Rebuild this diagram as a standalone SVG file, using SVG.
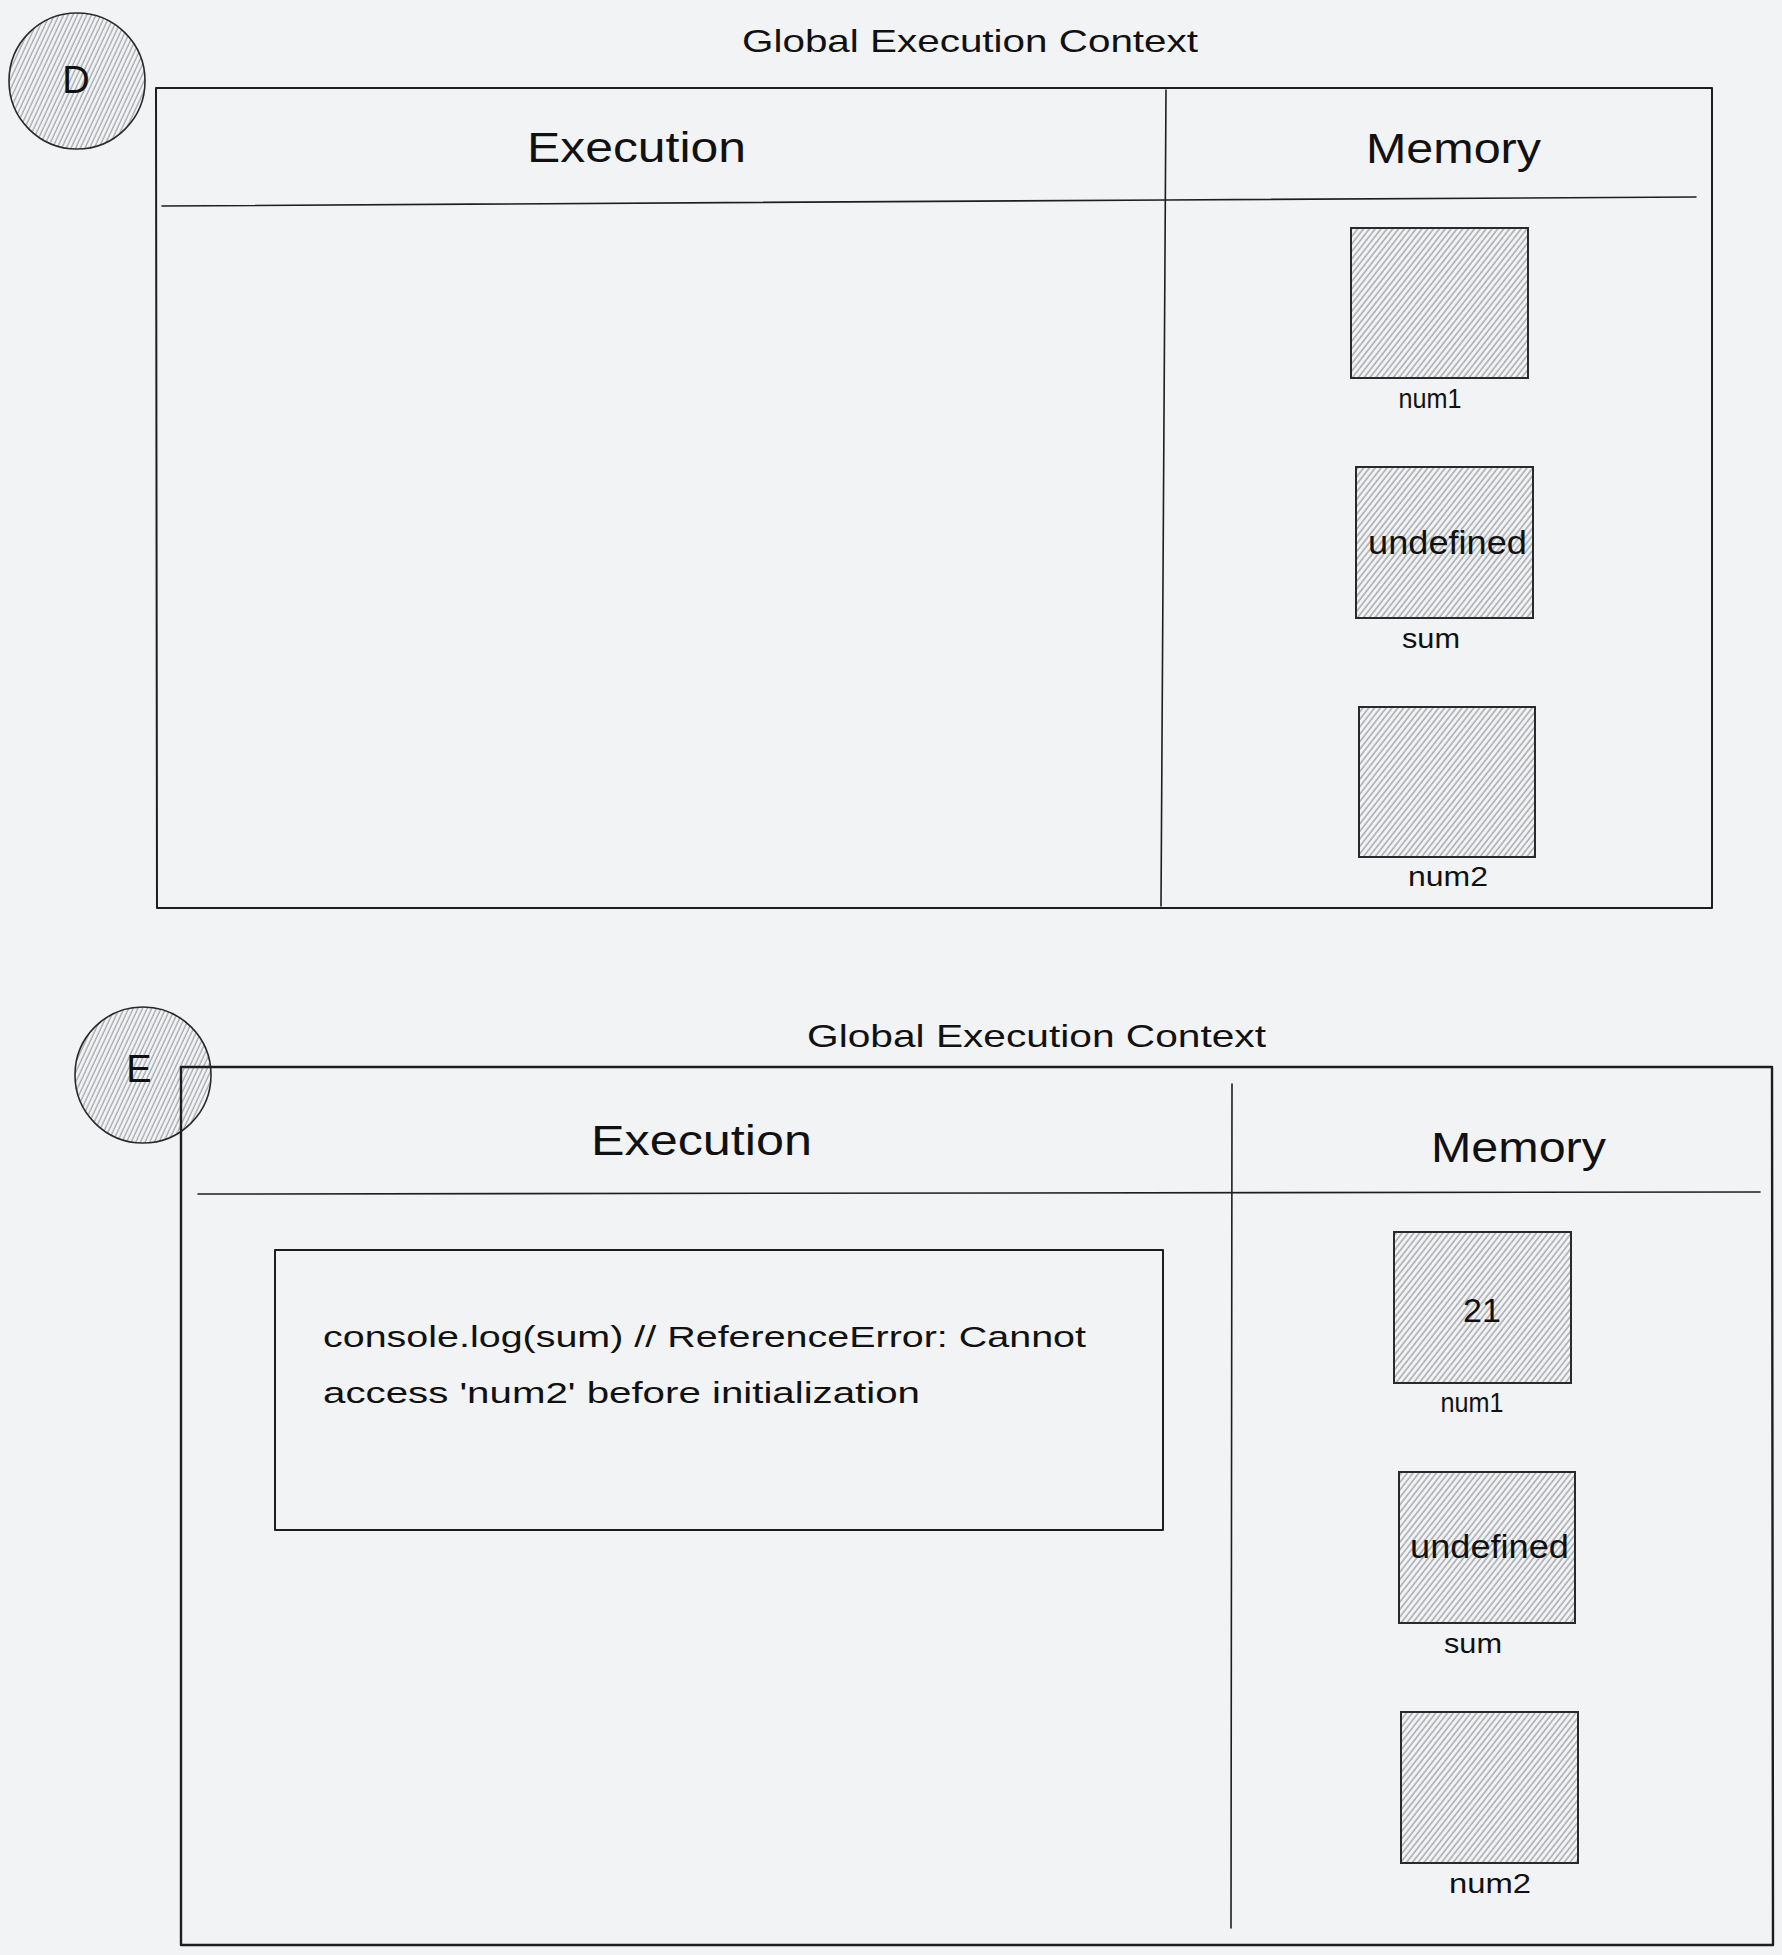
<svg xmlns="http://www.w3.org/2000/svg" width="1782" height="1955" viewBox="0 0 1782 1955">
<defs>
<pattern id="hatch" patternUnits="userSpaceOnUse" width="4.6" height="20" patternTransform="rotate(38)">
<line x1="1" y1="-2" x2="1" y2="22" stroke="#abadb1" stroke-width="1.6"/>
</pattern>
<pattern id="hatchc" patternUnits="userSpaceOnUse" width="4.2" height="20" patternTransform="rotate(25)">
<line x1="1" y1="-2" x2="1" y2="22" stroke="#a9abaf" stroke-width="1.4"/>
</pattern>
</defs>
<style>
.bg{fill:#f2f3f5}
.frame{fill:none;stroke:#1e1e1e;stroke-width:2;stroke-linejoin:round;stroke-linecap:round}
.thin{fill:none;stroke:#1e1e1e;stroke-width:1.6;stroke-linecap:round}
.box{fill:url(#hatch);stroke:#2a2a2a;stroke-width:2}
.badge{fill:url(#hatchc);stroke:#2a2a2a;stroke-width:1.6}
text{font-family:"Liberation Sans","DejaVu Sans",sans-serif;fill:#111}
.title{font-size:32px}
.head{font-size:42px}
.lbl{font-size:28px;text-anchor:middle}
.val{font-size:34px}
.code{font-size:30px}
.letter{font-size:38px;text-anchor:middle}
</style>
<rect class="bg" x="0" y="0" width="1782" height="1955"/>

<g id="D">
  <g id="D-badge">
    <circle class="badge" cx="77" cy="81" r="68"/>
    <text class="letter" x="76" y="93">D</text>
  </g>
  <g id="D-title"><text class="title" x="742" y="52" textLength="456" lengthAdjust="spacingAndGlyphs">Global Execution Context</text></g>
  <g id="D-frame">
    <path class="frame" d="M156,88 L1712,88 L1712,908 L157,908 Z"/>
    <path class="thin" d="M1166,90 L1161,906"/>
    <path class="thin" d="M162,206 L1166,200 L1696,197"/>
    <text class="head" x="527" y="162" textLength="219" lengthAdjust="spacingAndGlyphs">Execution</text>
    <text class="head" x="1366" y="163" textLength="175" lengthAdjust="spacingAndGlyphs">Memory</text>
  </g>
  <g id="D-num1">
    <rect class="box" x="1351" y="228" width="177" height="150"/>
    <text class="lbl" x="1430" y="408" textLength="63" lengthAdjust="spacingAndGlyphs">num1</text>
  </g>
  <g id="D-sum">
    <rect class="box" x="1356" y="467" width="177" height="151"/>
    <text class="val" x="1368" y="554" textLength="159" lengthAdjust="spacingAndGlyphs">undefined</text>
    <text class="lbl" x="1431" y="648" textLength="58" lengthAdjust="spacingAndGlyphs">sum</text>
  </g>
  <g id="D-num2">
    <rect class="box" x="1359" y="707" width="176" height="150"/>
    <text class="lbl" x="1448" y="886" textLength="80" lengthAdjust="spacingAndGlyphs">num2</text>
  </g>
</g>

<g id="E">
  <g id="E-badge">
    <circle class="badge" cx="143" cy="1075" r="68"/>
    <text class="letter" x="139" y="1082">E</text>
  </g>
  <g id="E-title"><text class="title" x="807" y="1047" textLength="459" lengthAdjust="spacingAndGlyphs">Global Execution Context</text></g>
  <g id="E-frame">
    <path class="frame" style="stroke-width:2.4" d="M181,1067 L1772,1067 L1773,1945 L181,1945 Z"/>
    <path class="thin" d="M1232,1084 L1231,1928"/>
    <path class="thin" d="M198,1194 L1760,1192"/>
    <text class="head" x="591" y="1155" textLength="221" lengthAdjust="spacingAndGlyphs">Execution</text>
    <text class="head" x="1431" y="1162" textLength="175" lengthAdjust="spacingAndGlyphs">Memory</text>
  </g>
  <g id="E-code">
    <rect class="frame" x="275" y="1250" width="888" height="280"/>
    <text class="code" x="323" y="1347" textLength="763" lengthAdjust="spacingAndGlyphs">console.log(sum) // ReferenceError: Cannot</text>
    <text class="code" x="323" y="1403" textLength="597" lengthAdjust="spacingAndGlyphs">access 'num2' before initialization</text>
  </g>
  <g id="E-num1">
    <rect class="box" x="1394" y="1232" width="177" height="151"/>
    <text class="val" x="1482" y="1322" text-anchor="middle">21</text>
    <text class="lbl" x="1472" y="1412" textLength="63" lengthAdjust="spacingAndGlyphs">num1</text>
  </g>
  <g id="E-sum">
    <rect class="box" x="1399" y="1472" width="176" height="151"/>
    <text class="val" x="1410" y="1558" textLength="159" lengthAdjust="spacingAndGlyphs">undefined</text>
    <text class="lbl" x="1473" y="1653" textLength="58" lengthAdjust="spacingAndGlyphs">sum</text>
  </g>
  <g id="E-num2">
    <rect class="box" x="1401" y="1712" width="177" height="151"/>
    <text class="lbl" x="1490" y="1893" textLength="82" lengthAdjust="spacingAndGlyphs">num2</text>
  </g>
</g>

<g id="connectors"></g>
</svg>
